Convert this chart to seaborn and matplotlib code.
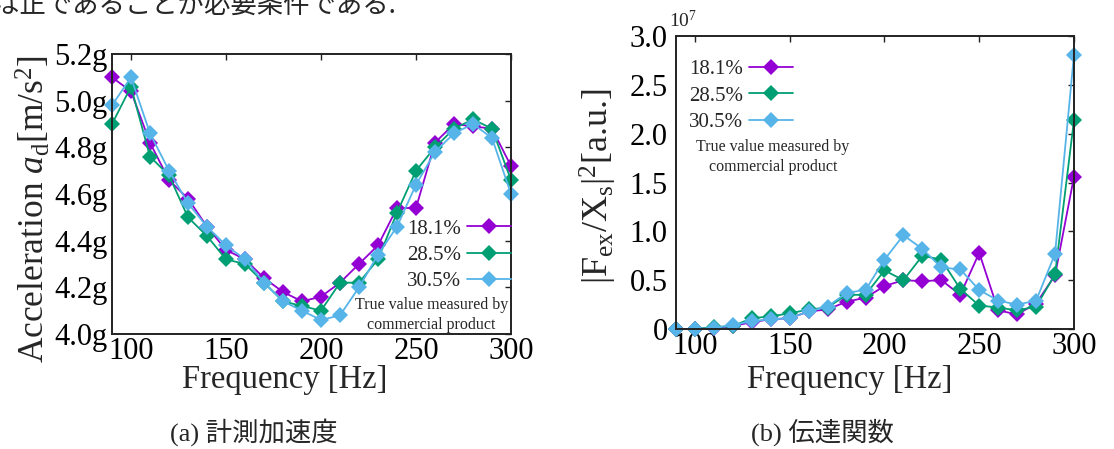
import numpy as np
import pandas as pd
import matplotlib
matplotlib.use("Agg")
import matplotlib.pyplot as plt
import seaborn as sns
from matplotlib.lines import Line2D
from matplotlib.ticker import FuncFormatter

# ---------------- data ----------------
freq = [90, 100, 110, 120, 130, 140, 150, 160, 170, 180, 190,
        200, 210, 220, 230, 240, 250, 260, 270, 280, 290, 300]
series = ["18.1%", "28.5%", "30.5%"]
colors = ["#9400D3", "#009E73", "#56B4E9"]

# (a) measured acceleration [g]
acc_181 = [5.10, 5.04, 4.82, 4.66, 4.58, 4.46, 4.36, 4.32, 4.24, 4.18, 4.14,
           4.16, 4.22, 4.30, 4.38, 4.54, 4.54, 4.82, 4.90, 4.89, 4.88, 4.72]
acc_285 = [4.90, 5.06, 4.76, 4.68, 4.50, 4.42, 4.32, 4.30, 4.22, 4.14, 4.12,
           4.10, 4.22, 4.22, 4.32, 4.52, 4.70, 4.80, 4.88, 4.92, 4.88, 4.66]
acc_305 = [4.98, 5.10, 4.86, 4.70, 4.56, 4.46, 4.38, 4.32, 4.22, 4.14, 4.10,
           4.06, 4.08, 4.20, 4.34, 4.46, 4.64, 4.78, 4.86, 4.90, 4.84, 4.60]

# (b) transfer function |Fex/Xs|^2 [a.u.], in units of 1e7
tf_181 = [0.00, 0.00, 0.01, 0.03, 0.07, 0.10, 0.11, 0.18, 0.20, 0.28, 0.32,
          0.44, 0.50, 0.49, 0.50, 0.35, 0.78, 0.19, 0.15, 0.26, 0.55, 1.56]
tf_285 = [0.00, 0.00, 0.02, 0.03, 0.11, 0.13, 0.16, 0.20, 0.22, 0.35, 0.35,
          0.60, 0.50, 0.75, 0.71, 0.41, 0.24, 0.22, 0.19, 0.23, 0.56, 2.14]
tf_305 = [0.00, 0.00, 0.01, 0.04, 0.08, 0.10, 0.11, 0.18, 0.23, 0.37, 0.40,
          0.71, 0.96, 0.82, 0.63, 0.61, 0.40, 0.29, 0.25, 0.29, 0.77, 2.81]

y_ticks_a = [4.0, 4.2, 4.4, 4.6, 4.8, 5.0, 5.2]
y_ticks_b = [0, 0.5, 1.0, 1.5, 2.0, 2.5, 3.0]
x_ticks = [100, 150, 200, 250, 300]

def long_df(vals):
    rows = []
    for name, v in zip(series, vals):
        for f, y in zip(freq, v):
            rows.append({"freq": f, "value": y, "series": name})
    return pd.DataFrame(rows)

df_a = long_df([acc_181, acc_285, acc_305])
df_b = long_df([tf_181, tf_285, tf_305])

# ---------------- style ----------------
sns.set_theme(style="white")
plt.rcParams["font.family"] = ["Liberation Serif", "Noto Sans CJK JP", "DejaVu Sans"]
plt.rcParams["mathtext.fontset"] = "custom"
plt.rcParams["mathtext.rm"] = "Liberation Serif"
plt.rcParams["mathtext.it"] = "Liberation Serif:italic"
plt.rcParams["axes.edgecolor"] = "#222222"

W, H = 1114, 449
fig = plt.figure(figsize=(W / 100, H / 100), dpi=100)
palette = dict(zip(series, colors))

def px_axes(l, t, r, b):
    return fig.add_axes([l / W, 1 - b / H, (r - l) / W, (b - t) / H])

ax1 = px_axes(112, 54, 511, 334)
ax2 = px_axes(676, 36, 1074, 329)

MS = 8.5
for ax, df in [(ax1, df_a), (ax2, df_b)]:
    sns.lineplot(data=df, x="freq", y="value", hue="series", palette=palette,
                 marker="D", markersize=MS, markeredgewidth=0, linewidth=1.3,
                 legend=False, ax=ax, sort=False)
    ax.set_xlim(90, 300)
    ax.set_xticks(x_ticks)
    ax.set_xlabel("")
    ax.set_ylabel("")
    ax.tick_params(axis="both", direction="in", length=4, width=1,
                   top=True, right=True, labelsize=22, pad=2,
                   colors="#222222", labelcolor="black")
    for s in ax.spines.values():
        s.set_linewidth(1.4)
        s.set_visible(True)
    for ln in ax.get_lines():
        ln.set_clip_on(False)

ax1.set_ylim(4.0, 5.2)
ax1.set_yticks(y_ticks_a)
ax1.yaxis.set_major_formatter(FuncFormatter(lambda v, p: f"{v:.1f}g"))
ax1.tick_params(axis="y", pad=3)

ax2.set_ylim(0, 3.0)
ax2.set_yticks(y_ticks_b)
ax2.yaxis.set_major_formatter(FuncFormatter(lambda v, p: "0" if abs(v) < 1e-9 else f"{v:.1f}"))
ax2.tick_params(axis="y", pad=6)

handles = [Line2D([], [], color=c, marker="D", markersize=MS, markeredgewidth=0, linewidth=1.3)
           for c in colors]

leg1 = ax1.legend(handles, series, markerfirst=False, frameon=False, loc="center right",
                  bbox_to_anchor=(1.0, 0.282), fontsize=15, handlelength=2.1,
                  handletextpad=0.3, labelspacing=0.32, borderaxespad=0, borderpad=0)
ax1.text(0.80, 0.068, "True value measured by\ncommercial product", transform=ax1.transAxes,
         ha="center", va="center", fontsize=11.5, linespacing=1.3)

leg2 = ax2.legend(handles, series, markerfirst=False, frameon=False, loc="center right",
                  bbox_to_anchor=(0.294, 0.796), fontsize=15, handlelength=2.1,
                  handletextpad=0.3, labelspacing=0.32, borderaxespad=0, borderpad=0)
ax2.text(0.244, 0.587, "True value measured by\ncommercial product", transform=ax2.transAxes,
         ha="center", va="center", fontsize=11.5, linespacing=1.3)

# axis labels
fig.text(285 / W, 1 - 380 / H, "Frequency [Hz]", ha="center", va="center", fontsize=23.5)
fig.text(850 / W, 1 - 380 / H, "Frequency [Hz]", ha="center", va="center", fontsize=23.5)
fig.text(34 / W, 1 - 209 / H, r"Acceleration $a_{\mathrm{d}}$[m/s$^{2}$]", rotation=90,
         ha="center", va="center", fontsize=25.5)
fig.text(598 / W, 1 - 186 / H, r"$|\mathrm{F}_{\mathrm{ex}}/\mathrm{X}_{\mathrm{s}}|^{2}$[a.u.]",
         rotation=90, ha="center", va="center", fontsize=26)
fig.text(683 / W, 1 - 20 / H, r"$10^{7}$", ha="center", va="center", fontsize=14)

# captions
fig.text(254 / W, 1 - 432 / H, "(a) 計測加速度", ha="center", va="center", fontsize=19)
fig.text(822 / W, 1 - 432 / H, "(b) 伝達関数", ha="center", va="center", fontsize=19)

# running body text of the page, cut at the top edge as in the source
fig.text(-7 / W, 1 - 5 / H, "は正であることが必要条件である.", ha="left", va="center",
         fontsize=19, family=["Noto Sans CJK JP", "DejaVu Sans"])

fig.savefig("out.png", dpi=100, facecolor="white")
